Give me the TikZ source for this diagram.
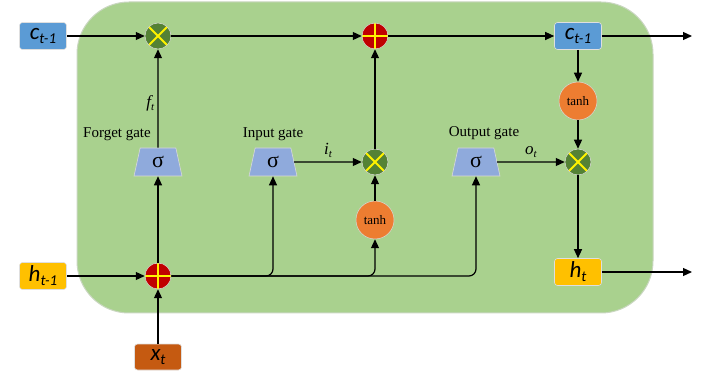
\documentclass[tikz,border=0pt]{standalone}
\usepackage{fontspec}
\setmainfont{Liberation Serif}
\newfontfamily\carlito{Carlito}
\usetikzlibrary{arrows.meta,shapes.geometric}
\definecolor{bggreen}{HTML}{A9D18E}
\definecolor{bgedge}{HTML}{C9D6C0}
\definecolor{cblue}{HTML}{5B9BD5}
\definecolor{hyellow}{HTML}{FFC000}
\definecolor{xbrown}{HTML}{C55A11}
\definecolor{torange}{HTML}{ED7D31}
\definecolor{mgreen}{HTML}{548235}
\definecolor{pred}{HTML}{C00000}
\definecolor{sblue}{HTML}{8FAADC}
\newcommand{\boxlbl}[2]{{\carlito\itshape\fontsize{23}{23}\selectfont #1\raisebox{-4pt}{\fontsize{15}{15}\selectfont #2}}}
\newcommand{\gatelbl}[1]{{\itshape\fontsize{17}{17}\selectfont #1\raisebox{-3pt}{\fontsize{11}{11}\selectfont t}}}
\begin{document}
\begin{tikzpicture}[x=1pt,y=-1pt,
  arr/.style={draw=black, line width=1.2pt, -{Triangle[length=9pt,width=8pt]}},
  valbox/.style={rounded corners=3pt, minimum width=47pt, minimum height=27pt, inner sep=0pt, draw=white!75!gray, line width=0.6pt},
  multc/.style={circle, fill=mgreen, draw=white!70!gray, line width=0.5pt, minimum size=26pt, inner sep=0pt,
     path picture={\draw[yellow, line width=1.8pt] (path picture bounding box.center) ++(45:13pt) -- ++(225:26pt)
        (path picture bounding box.center) ++(135:13pt) -- ++(315:26pt);}},
  plusc/.style={circle, fill=pred, draw=white!70!gray, line width=0.5pt, minimum size=26pt, inner sep=0pt,
     path picture={\draw[yellow, line width=1.8pt] (path picture bounding box.center) ++(0:13pt) -- ++(180:26pt)
        (path picture bounding box.center) ++(90:13pt) -- ++(270:26pt);}},
  tanhc/.style={circle, fill=torange, draw=white!70!gray, line width=0.5pt, minimum size=38pt, inner sep=0pt, font=\fontsize{13}{13}\selectfont},
  sig/.style={trapezium, trapezium stretches=true, trapezium left angle=80, trapezium right angle=80,
     minimum width=48pt, minimum height=28pt, fill=sblue, draw=white!70!gray, line width=0.6pt, inner sep=0pt,
     font=\fontsize{22}{22}\selectfont},
  gl/.style={font=\fontsize{15}{15}\selectfont}
]
\useasboundingbox (0,0) rectangle (710,374);
\draw[fill=bggreen, draw=bgedge, line width=1pt, rounded corners=52pt] (77,2) rectangle (653,313);

% nodes
\node[valbox, fill=cblue] (c0) at (43,36) {\boxlbl{c}{t-1}};
\node[valbox, fill=cblue] (c1) at (578,36) {\boxlbl{c}{t-1}};
\node[valbox, fill=hyellow] (h0) at (43,276) {\boxlbl{h}{t-1}};
\node[valbox, fill=hyellow] (ht) at (578,272) {\boxlbl{h}{t}};
\node[valbox, fill=xbrown, minimum height=26pt] (xt) at (158,357) {\boxlbl{x}{t}};

\node[multc] (mf) at (158,36) {};
\node[plusc] (pc) at (375,36) {};
\node[multc] (mi) at (375,162) {};
\node[multc] (mo) at (578,162) {};
\node[plusc] (pb) at (158,276) {};

\node[tanhc] (th1) at (578,101) {tanh};
\node[tanhc] (th2) at (375,220) {tanh};

\node[sig] (sf) at (158,162) {σ};
\node[sig] (si) at (273,162) {σ};
\node[sig] (so) at (476,162) {σ};

\node[gl] (lf) at (117,134) {Forget gate};
\node[gl] (li) at (273,134) {Input gate};
\node[gl] (lo) at (484,133) {Output gate};

\coordinate (outc) at (692,36);
\coordinate (outh) at (692,272);

% top line
\draw[arr] (c0) -- (mf);
\draw[arr] (mf) -- (pc);
\draw[arr] (pc) -- (c1);
\draw[arr] (c1) -- (outc);

% bottom
\draw[arr] (h0) -- (pb);
\draw[arr] (xt) -- (pb);
\draw[arr] (pb) -- (sf);
\draw[arr] (sf) -- node[pos=0.45, left=0pt] (ft) {\gatelbl{f}} (mf);
\draw[arr, rounded corners=7pt] (pb) -| (si);
\draw[arr, rounded corners=7pt] (pb) -| (th2);
\draw[arr, rounded corners=7pt] (pb) -| (so);

% input
\draw[arr] (si) -- node[above=0pt] (it) {\gatelbl{i}} (mi);
\draw[arr] (th2) -- (mi);
\draw[arr] (mi) -- (pc);

% output
\draw[arr] (c1) -- (th1);
\draw[arr] (th1) -- (mo);
\draw[arr] (so) -- node[above=0pt] (ot) {\gatelbl{o}} (mo);
\draw[arr] (mo) -- (ht);
\draw[arr] (ht) -- (outh);
\end{tikzpicture}
\end{document}
